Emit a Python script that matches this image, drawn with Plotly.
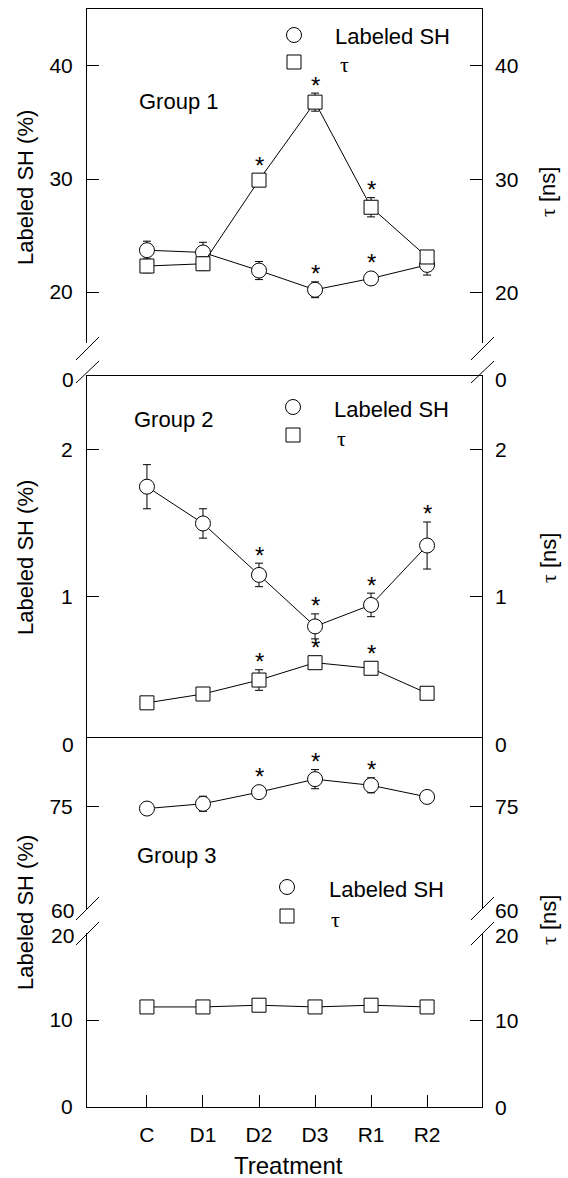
import plotly.graph_objects as go

# ---------------- data ----------------
categories = ["C", "D1", "D2", "D3", "R1", "R2"]

g1_sh = [23.7, 23.5, 21.9, 20.2, 21.2, 22.4]
g1_sh_err = [0.8, 0.9, 0.8, 0.7, 0.3, 0.9]
g1_tau = [22.3, 22.5, 29.9, 36.8, 27.5, 23.1]
g1_tau_err = [0.6, 0.6, 0.3, 0.8, 0.85, 0.3]
g1_sh_sig = [0, 0, 0, 1, 1, 0]
g1_tau_sig = [0, 0, 1, 1, 1, 0]

g2_sh = [1.75, 1.50, 1.15, 0.80, 0.946, 1.35]
g2_sh_err = [0.15, 0.10, 0.08, 0.085, 0.08, 0.16]
g2_tau = [0.28, 0.34, 0.435, 0.553, 0.515, 0.345]
g2_tau_err = [0.0, 0.0, 0.07, 0.02, 0.03, 0.0]
g2_sh_sig = [0, 0, 1, 1, 1, 1]
g2_tau_sig = [0, 0, 1, 1, 1, 0]

g3_sh = [74.7, 75.4, 77.1, 79.0, 78.1, 76.4]
g3_sh_err = [0.3, 1.1, 0.4, 1.4, 1.1, 0.4]
g3_tau = [11.5, 11.5, 11.7, 11.5, 11.7, 11.5]
g3_tau_err = [0.0, 0.0, 0.0, 0.0, 0.0, 0.0]
g3_sh_sig = [0, 0, 1, 1, 1, 0]
g3_tau_sig = [0, 0, 0, 0, 0, 0]

# tick values of each y-axis segment
yticks = {"1": [20, 30, 40], "2": [1, 2], "3": [75], "4": [0, 10]}

# ---------------- layout geometry (pixels) ----------------
W, H = 568, 1178
L, R, T, B = 87, 482, 9, 1107
FONT = "Liberation Sans, Arial, sans-serif"
TFONT = "Liberation Serif, Times New Roman, serif"


def px(x):
    return (x - L) / (R - L)


def py(y):
    return (B - y) / (B - T)


XR = [-1.07, 5.98]
panels = {
    # name: (domain top px, domain bottom px, range)
    "1": (9, 343, [15.49, 45.04]),
    "2": (376, 737, [0.0476, 2.503]),
    "3": (737, 909, [60, 85.17]),
    "4": (933, 1107, [0, 20]),
}


def ppu(p):
    t, b, r = panels[p]
    return (b - t) / (r[1] - r[0])


fig = go.Figure()

black = "black"
mk_sh = dict(symbol="circle", size=15, color="white", line=dict(color=black, width=1))
mk_tau = dict(symbol="square", size=14, color="white", line=dict(color=black, width=1))


def add_series(xax, yax, vals, errs, mk):
    fig.add_trace(go.Scatter(
        x=categories, y=vals, xaxis=xax, yaxis=yax, mode="lines+markers",
        line=dict(color=black, width=1), marker=mk,
        error_y=dict(type="data", array=errs, visible=True, color=black, thickness=1, width=4),
        showlegend=False, hoverinfo="skip"))


add_series("x", "y", g1_sh, g1_sh_err, mk_sh)
add_series("x", "y", g1_tau, g1_tau_err, mk_tau)
add_series("x2", "y2", g2_sh, g2_sh_err, mk_sh)
add_series("x2", "y2", g2_tau, g2_tau_err, mk_tau)
add_series("x3", "y3", g3_sh, g3_sh_err, mk_sh)
add_series("x4", "y4", g3_tau, g3_tau_err, mk_tau)

annotations = []


def add_stars(xax, yax, pnl, vals, errs, sig, msize):
    k = ppu(pnl)
    for c, v, e, s in zip(categories, vals, errs, sig):
        if s:
            off = max(e * k, msize / 2) + 8
            annotations.append(dict(
                x=c, y=v, xref=xax, yref=yax, text="*", showarrow=False,
                yshift=off, yanchor="middle",
                font=dict(family=FONT, size=24, color=black)))


add_stars("x", "y", "1", g1_sh, g1_sh_err, g1_sh_sig, 15)
add_stars("x", "y", "1", g1_tau, g1_tau_err, g1_tau_sig, 14)
add_stars("x2", "y2", "2", g2_sh, g2_sh_err, g2_sh_sig, 15)
add_stars("x2", "y2", "2", g2_tau, g2_tau_err, g2_tau_sig, 14)
add_stars("x3", "y3", "3", g3_sh, g3_sh_err, g3_sh_sig, 15)

tickfont = dict(family=FONT, size=21, color=black)

layout = dict(
    width=W, height=H,
    margin=dict(l=L, r=W - R, t=T, b=H - B, pad=0),
    paper_bgcolor="white", plot_bgcolor="rgba(0,0,0,0)",
    font=dict(family=FONT, color=black),
    showlegend=False,
)

keys = ["1", "2", "3", "4"]
for i, key in enumerate(keys):
    t, b, r = panels[key]
    dom = [py(b), py(t)]
    xl = "xaxis" if i == 0 else "xaxis%d" % (i + 1)
    yl = "yaxis" if i == 0 else "yaxis%d" % (i + 1)
    xid = "x" if i == 0 else "x%d" % (i + 1)
    yid = "y" if i == 0 else "y%d" % (i + 1)

    ax = dict(domain=[0, 1], range=XR, type="category", anchor=yid,
              showgrid=False, zeroline=False, showticklabels=False, ticks="",
              showline=False, linecolor=black, linewidth=1)
    if key == "1":
        ax.update(showline=True, side="top")
    if key == "2":
        ax.update(showline=True, mirror=True)
    if key == "4":
        ax.update(showline=True, ticks="inside", ticklen=12, tickwidth=1, tickcolor=black,
                  showticklabels=True, tickfont=tickfont, ticklabelstandoff=9)
    layout[xl] = ax

    layout[yl] = dict(domain=dom, range=r, anchor=xid, side="left",
                      showgrid=False, zeroline=False,
                      showline=True, mirror="ticks", linecolor=black, linewidth=1,
                      ticks="inside", ticklen=12, tickwidth=1, tickcolor=black,
                      tickvals=yticks[key], tickfont=tickfont, ticklabelstandoff=9)
    # right-hand (tau) tick labels, placed on the same axis scale
    for v in yticks[key]:
        annotations.append(dict(x=px(493), y=v, xref="paper", yref=yid, text=str(v),
                                showarrow=False, xanchor="left", yanchor="middle",
                                font=tickfont))

# extra tick-like labels near axis breaks
extra_labels = [("0", 379), ("0", 745), ("60", 910), ("20", 935)]
for txt, yy in extra_labels:
    annotations.append(dict(x=px(76), y=py(yy), xref="paper", yref="paper", text=txt,
                            showarrow=False, xanchor="right", yanchor="middle", font=tickfont))
    annotations.append(dict(x=px(493), y=py(yy), xref="paper", yref="paper", text=txt,
                            showarrow=False, xanchor="left", yanchor="middle", font=tickfont))

# axis titles
tfont = dict(family=FONT, size=22, color=black)
for yc_l, yc_r in [(188, 192), (558, 558), (913, 920)]:
    annotations.append(dict(x=px(25), y=py(yc_l), xref="paper", yref="paper",
                            text="Labeled SH (%)", textangle=-90, showarrow=False,
                            xanchor="center", yanchor="middle", font=tfont))
    annotations.append(dict(x=px(548), y=py(yc_r), xref="paper", yref="paper",
                            text="<span style='font-family:Liberation Serif'>τ</span> [ns]",
                            textangle=-90, showarrow=False,
                            xanchor="center", yanchor="middle", font=tfont))

annotations.append(dict(x=px(288), y=py(1165), xref="paper", yref="paper", text="Treatment",
                        showarrow=False, xanchor="center", yanchor="middle",
                        font=dict(family=FONT, size=24, color=black)))

# group labels
for txt, xx, yy in [("Group 1", 137, 101), ("Group 2", 132, 420), ("Group 3", 135, 855)]:
    annotations.append(dict(x=px(xx), y=py(yy), xref="paper", yref="paper", text=txt,
                            showarrow=False, xanchor="left", yanchor="middle", font=tfont))

# legends (keys drawn as shapes, labels as text)
shapes = []
legend_pos = [(294, 35, 62, 333, 338), (293, 407, 435, 332, 335), (287, 887, 916, 327, 329)]
for cx, cy1, cy2, tx1, tx2 in legend_pos:
    shapes.append(dict(type="circle", xref="paper", yref="paper",
                       x0=px(cx - 7.5), x1=px(cx + 7.5), y0=py(cy1 + 7.5), y1=py(cy1 - 7.5),
                       line=dict(color=black, width=1), fillcolor="white"))
    shapes.append(dict(type="rect", xref="paper", yref="paper",
                       x0=px(cx - 7), x1=px(cx + 7), y0=py(cy2 + 7), y1=py(cy2 - 7),
                       line=dict(color=black, width=1), fillcolor="white"))
    annotations.append(dict(x=px(tx1), y=py(cy1 + 2), xref="paper", yref="paper", text="Labeled SH",
                            showarrow=False, xanchor="left", yanchor="middle", font=tfont))
    annotations.append(dict(x=px(tx2), y=py(cy2 + 3), xref="paper", yref="paper", text="τ",
                            showarrow=False, xanchor="left", yanchor="middle",
                            font=dict(family=TFONT, size=22, color=black)))


# axis-break slashes
def slash(x0, y0, x1, y1):
    shapes.append(dict(type="line", xref="paper", yref="paper",
                       x0=px(x0), y0=py(y0), x1=px(x1), y1=py(y1),
                       line=dict(color=black, width=1)))


for ax_x in (L, R):
    slash(ax_x - 11, 360, ax_x + 12, 337)
    slash(ax_x - 11, 383, ax_x + 12, 361)
    slash(ax_x - 11, 920, ax_x + 12, 897)
    slash(ax_x - 11, 945, ax_x + 12, 922)

layout["annotations"] = annotations
layout["shapes"] = shapes
fig.update_layout(**layout)

fig.write_html("out.html")
